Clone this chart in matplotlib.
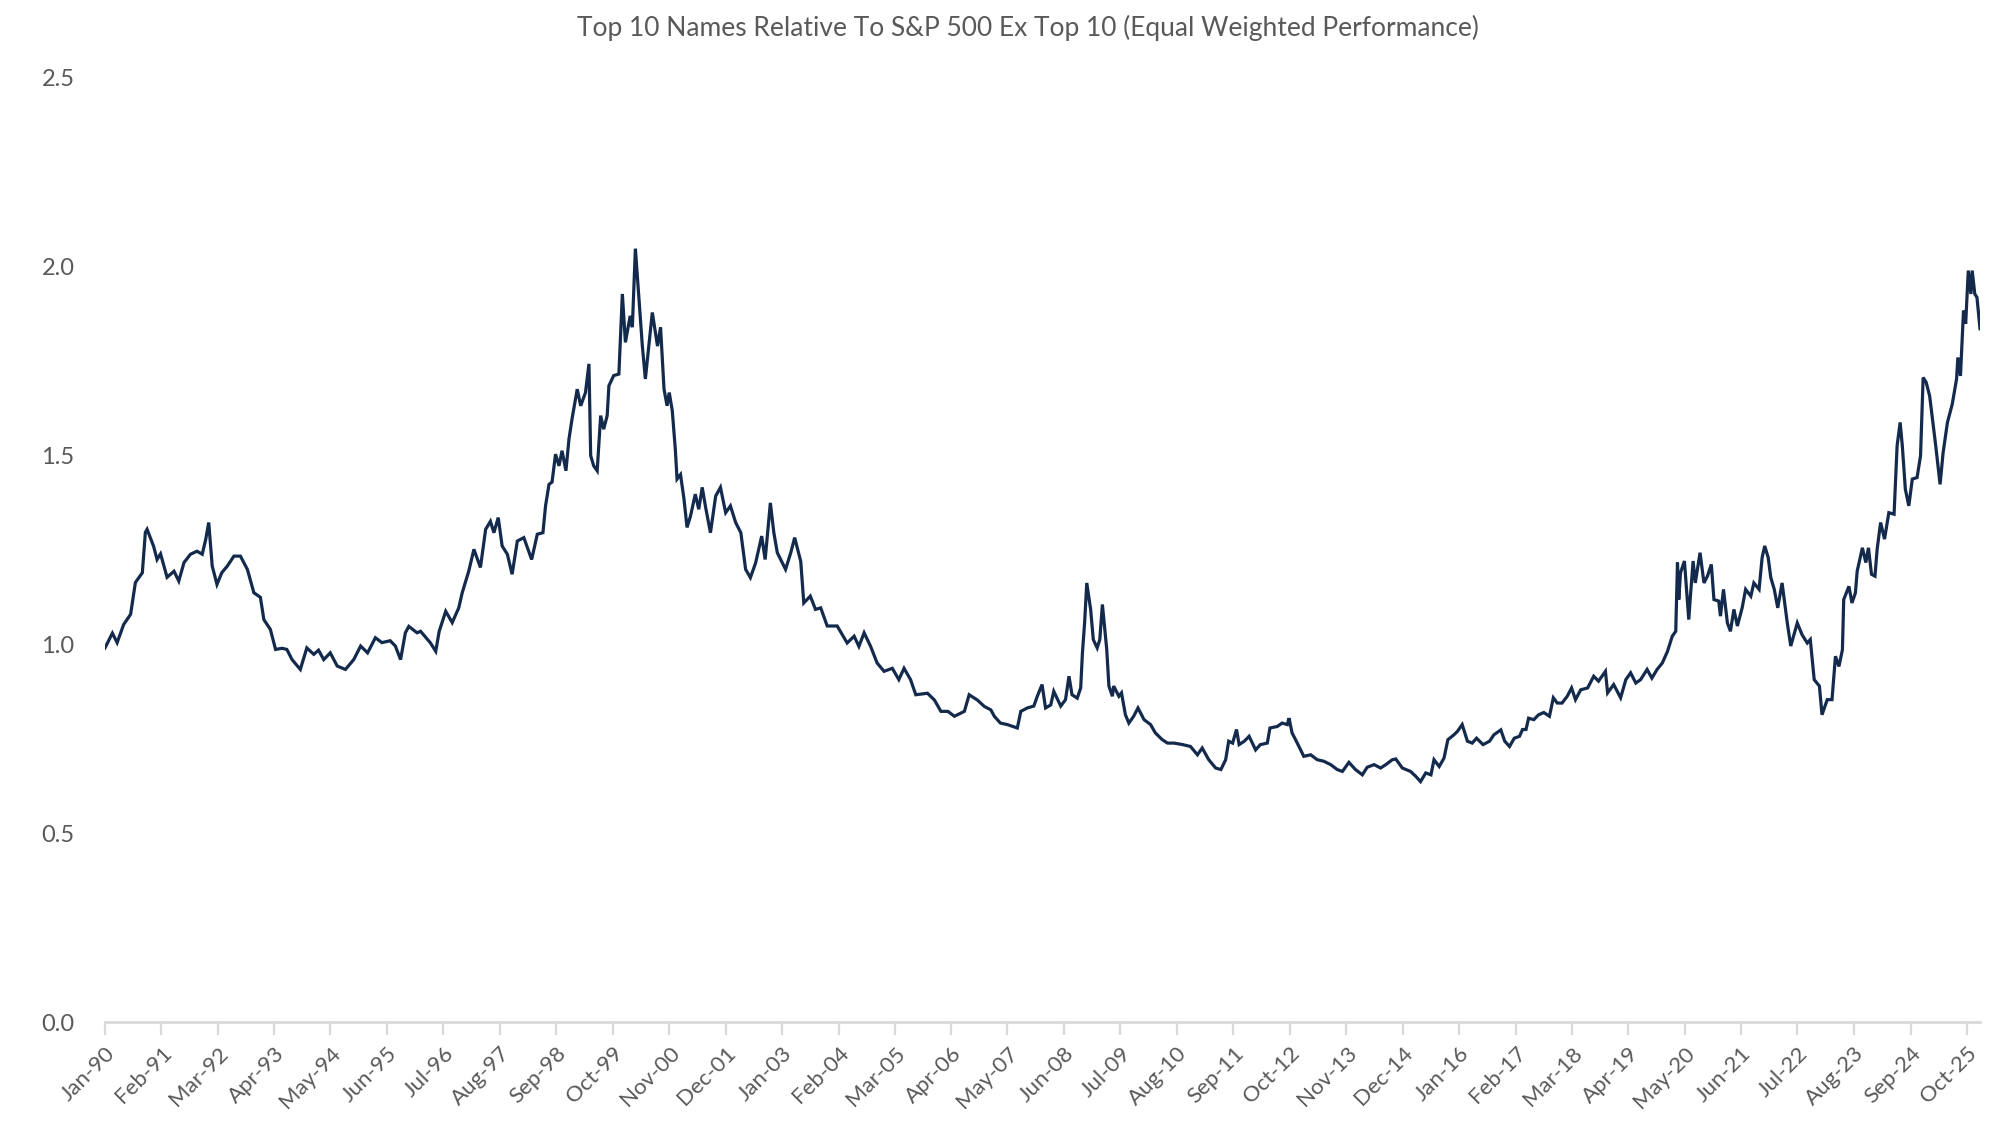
import numpy as np
import pandas as pd
import matplotlib
matplotlib.use("Agg")
import matplotlib.pyplot as plt
import matplotlib.dates as mdates
from matplotlib.ticker import FixedLocator, FuncFormatter

# months since Jan-1990 and the relative performance
months = [
    0, 1.7, 2.8, 4.3, 5.9, 7, 8.6, 9.3, 9.7, 11.2, 12, 12.8, 14.3, 15.9, 17, 18.2,
    19.7, 21.2, 22.4, 23.2, 23.9, 24.7, 25.8, 26.9, 28.2, 29.7, 31.2, 32.8, 34.3,
    35.8, 36.6, 38.1, 39.3, 40.8, 41.9, 43.1, 45, 46.5, 48.1, 49.2, 50.4, 51.9,
    53.5, 55.4, 57.3, 58.9, 60.5, 62.3, 63.8, 65.7, 66.9, 68.1, 69.2, 70, 71.9,
    72.7, 75, 76.2, 77, 78.5, 80, 81.5, 82.3, 83.8, 85, 86.5, 87.7, 88.8, 89.6,
    90.6, 91.5, 92.7, 93.8, 95, 96.5, 98.3, 99.6, 100.9, 101.5, 102.3, 103, 103.8,
    104.6, 105.3, 106.2, 106.9, 107.6, 108.8, 109.6, 110.7, 111.5, 111.9, 112.6,
    113.4, 114.2, 114.9, 115.7, 116.1, 117.2, 118.4, 119.2, 119.9, 121, 121.5,
    122.2, 122.7, 123.8, 124.5, 126.1, 127.3, 128, 128.8, 129.5, 130, 130.7,
    131.4, 131.8, 132.6, 133.4, 134.1, 134.9, 136, 136.8, 137.6, 138.4, 139.5,
    140.7, 141.8, 143, 144.1, 145.3, 146.5, 147.6, 148.7, 149.9, 151.3, 152.1,
    153.3, 154.1, 154.9, 156.8, 158, 158.9, 160.3, 161, 162.5, 163.7, 164.9,
    166.4, 168.7, 171, 172.6, 173.7, 174.9, 176.4, 177.9, 179.5, 181.4, 182.9,
    184.1, 185.6, 186.8, 189.5, 191.1, 192.6, 194.2, 195.7, 198, 199.1, 201,
    202.6, 204.1, 204.9, 206.3, 207.9, 210.2, 211, 212.5, 214, 214.8, 215.9,
    216.7, 217.9, 218.6, 220.2, 221.3, 222.1, 222.8, 224, 224.8, 225.2, 225.7,
    226.2, 227.1, 227.7, 228.6, 229.2, 229.8, 230.8, 231.3, 232.1, 232.4, 233.6,
    234.2, 235.1, 235.9, 237, 238, 239.4, 240.9, 242, 243.6, 244.8, 246.3, 248.3,
    250.1, 251.7, 252.8, 254.3, 255.9, 257.1, 258.2, 258.9, 259.8, 260.7, 261.3,
    262.5, 263.6, 265.1, 266.2, 267.8, 268.4, 270.1, 271.2, 272.4, 272.8, 273.5,
    274.7, 276.2, 277.8, 279.3, 280.8, 282.4, 283.9, 285.1, 286.6, 288.1, 289.7,
    290.8, 292.4, 293.9, 295.1, 296.6, 297.4, 298.9, 300.8, 302, 303.1, 304.3,
    305.5, 306.2, 307.4, 308.5, 309.4, 310.8, 311.6, 312.7, 313.9, 315, 316,
    317.5, 319, 320, 321.6, 322.5, 323.6, 324.7, 325.9, 326.6, 327.4, 328, 329.2,
    330.3, 331.5, 332.8, 333.7, 334.6, 335.7, 336.9, 337.9, 338.8, 340, 341.6,
    343, 344.1, 345.7, 346.2, 347.6, 349.2, 350.4, 351.5, 352.7, 353.8, 355.3,
    356.4, 357.6, 358.8, 360, 361.1, 361.9, 362.3, 362.6, 363, 363.9, 364.9,
    365.3, 365.9, 366.4, 367.5, 368.4, 369.2, 370.1, 370.7, 371.8, 372.2, 372.9,
    373.8, 374.5, 375.3, 376.1, 377.2, 378, 379.2, 379.9, 381.1, 381.8, 382.4,
    383.2, 383.8, 384.6, 385.4, 386.4, 387.6, 388.4, 389.5, 389.9, 391, 392.2,
    392.9, 393.8, 395, 395.6, 396.8, 397.9, 398.7, 399.5, 400.3, 400.6, 401.8,
    402.5, 403.3, 403.7, 404.9, 405.7, 406.3, 407, 407.8, 408.3, 409.1, 410, 411,
    412.2, 412.9, 413.6, 414.1, 414.8, 415.6, 416.4, 417.5, 418.3, 418.9, 419.6,
    420.4, 421.8, 422.8, 423.5, 424.5, 425.6, 426.6, 426.9, 427.5, 428.2, 428.7,
    429.3, 429.9, 430.2, 430.8, 431.3, 432,
]
relative = [
    0.991, 1.03, 1.005, 1.053, 1.08, 1.164, 1.19, 1.297, 1.305, 1.26, 1.225, 1.24,
    1.178, 1.194, 1.168, 1.217, 1.239, 1.247, 1.239, 1.278, 1.323, 1.208, 1.159,
    1.19, 1.208, 1.234, 1.234, 1.199, 1.137, 1.125, 1.066, 1.04, 0.987, 0.99,
    0.987, 0.96, 0.934, 0.991, 0.974, 0.985, 0.96, 0.978, 0.943, 0.934, 0.96,
    0.996, 0.978, 1.018, 1.005, 1.01, 0.996, 0.96, 1.031, 1.048, 1.031, 1.035,
    1.004, 0.982, 1.035, 1.088, 1.058, 1.097, 1.137, 1.194, 1.252, 1.204, 1.305,
    1.326, 1.296, 1.336, 1.261, 1.239, 1.186, 1.274, 1.283, 1.225, 1.292, 1.296,
    1.367, 1.424, 1.43, 1.504, 1.473, 1.513, 1.46, 1.544, 1.597, 1.676, 1.632,
    1.667, 1.743, 1.5, 1.473, 1.46, 1.606, 1.57, 1.606, 1.685, 1.712, 1.716,
    1.928, 1.8, 1.87, 1.84, 2.048, 1.968, 1.791, 1.703, 1.879, 1.79, 1.84, 1.676,
    1.632, 1.667, 1.619, 1.517, 1.438, 1.45, 1.385, 1.31, 1.34, 1.398, 1.358,
    1.416, 1.362, 1.296, 1.393, 1.416, 1.349, 1.367, 1.323, 1.296, 1.199, 1.177,
    1.216, 1.287, 1.225, 1.375, 1.296, 1.243, 1.199, 1.243, 1.283, 1.22, 1.11,
    1.128, 1.093, 1.097, 1.049, 1.049, 1.004, 1.022, 0.995, 1.031, 0.995, 0.951,
    0.929, 0.937, 0.907, 0.937, 0.907, 0.867, 0.871, 0.853, 0.823, 0.823, 0.81,
    0.823, 0.867, 0.853, 0.836, 0.827, 0.81, 0.792, 0.788, 0.779, 0.823, 0.832,
    0.837, 0.863, 0.894, 0.832, 0.84, 0.876, 0.837, 0.854, 0.916, 0.867, 0.858,
    0.885, 0.978, 1.057, 1.163, 1.092, 1.013, 0.991, 1.013, 1.106, 0.987, 0.89,
    0.863, 0.89, 0.863, 0.872, 0.814, 0.792, 0.81, 0.832, 0.801, 0.788, 0.766,
    0.748, 0.739, 0.739, 0.735, 0.73, 0.708, 0.726, 0.695, 0.673, 0.669, 0.695,
    0.744, 0.739, 0.775, 0.735, 0.744, 0.757, 0.721, 0.735, 0.739, 0.779, 0.783,
    0.792, 0.788, 0.805, 0.766, 0.739, 0.704, 0.708, 0.695, 0.691, 0.682, 0.669,
    0.664, 0.688, 0.669, 0.655, 0.675, 0.682, 0.673, 0.682, 0.695, 0.697, 0.673,
    0.664, 0.651, 0.637, 0.66, 0.655, 0.695, 0.677, 0.699, 0.748, 0.761, 0.77,
    0.788, 0.744, 0.739, 0.752, 0.735, 0.744, 0.761, 0.774, 0.744, 0.73, 0.752,
    0.757, 0.775, 0.775, 0.805, 0.801, 0.814, 0.82, 0.81, 0.859, 0.845, 0.845,
    0.863, 0.885, 0.854, 0.88, 0.885, 0.916, 0.903, 0.929, 0.872, 0.894, 0.859,
    0.907, 0.925, 0.898, 0.907, 0.934, 0.911, 0.934, 0.951, 0.982, 1.022, 1.035,
    1.217, 1.119, 1.19, 1.221, 1.066, 1.131, 1.221, 1.163, 1.243, 1.163, 1.181,
    1.212, 1.119, 1.115, 1.075, 1.146, 1.057, 1.035, 1.093, 1.049, 1.097, 1.146,
    1.128, 1.163, 1.146, 1.23, 1.261, 1.23, 1.177, 1.146, 1.097, 1.163, 1.057,
    0.996, 1.04, 1.057, 1.026, 1.004, 1.013, 0.907, 0.89, 0.814, 0.854, 0.854,
    0.969, 0.942, 0.986, 1.119, 1.154, 1.11, 1.137, 1.194, 1.256, 1.217, 1.256,
    1.186, 1.181, 1.252, 1.323, 1.279, 1.349, 1.345, 1.526, 1.588, 1.526, 1.411,
    1.367, 1.438, 1.442, 1.5, 1.707, 1.694, 1.658, 1.526, 1.424, 1.508, 1.588,
    1.636, 1.703, 1.76, 1.711, 1.884, 1.849, 1.99, 1.928, 1.99, 1.928, 1.919,
    1.836,
]

title = "Top 10 Names Relative To S&P 500 Ex Top 10 (Equal Weighted Performance)"
start = pd.Timestamp("1990-01-01")
tick_step = 13  # Excel axis: one label every 13 months
y_ticks = [0.0, 0.5, 1.0, 1.5, 2.0, 2.5]

dates = start + pd.to_timedelta(np.array(months) * 30.4375, unit="D")
tick_dates = [start + pd.DateOffset(months=int(k)) for k in range(0, 430, tick_step)]

plt.rcParams["font.family"] = ["Lato", "DejaVu Sans"]
text_col = "#595959"

fig = plt.figure(figsize=(20, 11.46), dpi=100)
ax = fig.add_axes([0.0525, 0.108, 0.9375, 0.824])

ax.plot(dates, relative, color="#142a4c", lw=2.3, solid_joinstyle="miter")

ax.set_ylim(0, 2.5)
ax.set_xlim(start, dates[-1])
ax.yaxis.set_major_locator(FixedLocator(y_ticks))
ax.yaxis.set_major_formatter(FuncFormatter(lambda v, p: f"{v:.1f}"))

ax.set_xticks(mdates.date2num(tick_dates))
ax.set_xticklabels([d.strftime("%b-%y") for d in tick_dates], rotation=45,
                   ha="right", rotation_mode="anchor")

for s in ["top", "right", "left"]:
    ax.spines[s].set_visible(False)
ax.spines["bottom"].set_color("#d9d9d9")
ax.spines["bottom"].set_linewidth(2)

ax.tick_params(axis="x", colors="#d9d9d9", length=9, width=1.6, direction="out",
               labelcolor=text_col, labelsize=16, pad=6)
ax.tick_params(axis="y", length=0, labelcolor=text_col, labelsize=17, pad=22)

fig.text(0.514, 1 - 28 / 1146, title, fontsize=19, color=text_col,
         ha="center", va="center")

fig.savefig("out.png", dpi=100, facecolor="white")
